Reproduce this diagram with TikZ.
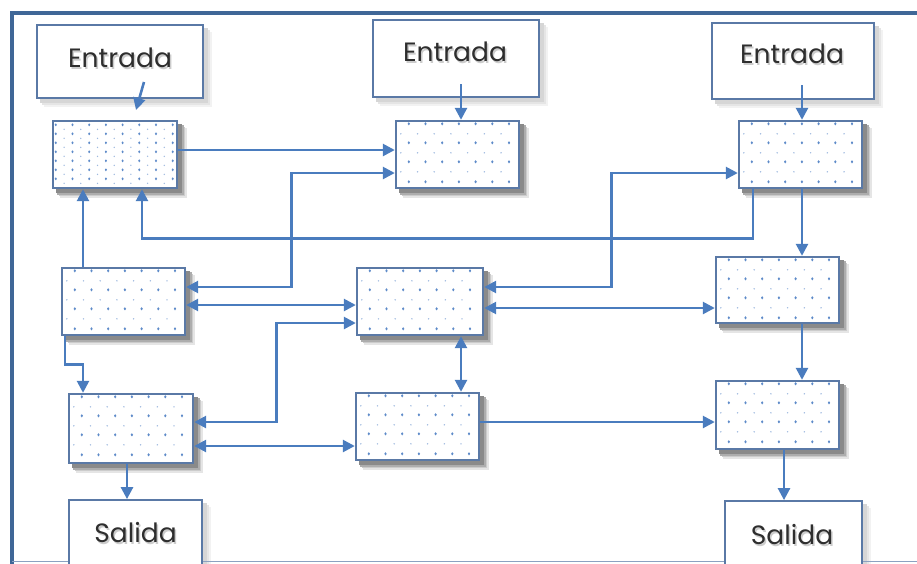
\documentclass[tikz,border=0pt]{standalone}
\usepackage{fontspec}
\setmainfont{Poppins}
\usetikzlibrary{arrows.meta,backgrounds}

\definecolor{frameblue}{HTML}{3F6797}
\definecolor{edgeblue}{HTML}{5A79A6}
\definecolor{linkblue}{HTML}{4A7CBE}
\definecolor{dotblue}{HTML}{5E8BC9}
\definecolor{textgray}{HTML}{2E2E2E}

\tikzset{
  block/.style={draw=edgeblue, line width=2.4pt, fill=white, inner sep=0pt,
    minimum width=123pt, minimum height=67pt},
  iobox/.style={draw=edgeblue, line width=1.8pt, fill=white, inner sep=0pt},
  lbl/.style={font=\fontsize{26.5}{30}\selectfont, text=textgray, inner sep=0pt},
  lblshade/.style={font=\fontsize{26.5}{30}\selectfont, text=black!20, inner sep=0pt},
  bigdot/.style={fill=dotblue},
  smalldot/.style={fill=dotblue!60},
  arr/.style={draw=linkblue, line width=2.6pt,
    -{Triangle[length=12pt,width=12pt]}},
  arrtwo/.style={draw=linkblue, line width=2.6pt,
    {Triangle[length=12pt,width=12pt]}-{Triangle[length=12pt,width=12pt]}},
}

% soft shadow below and right of a box: offset/grey-percentage pairs
\newcommand{\boxshade}[2]{%
  \foreach \s/\c in {#2}
    \fill[black!\c!white]
      ([shift={(\s,\s)}]#1.north west) rectangle ([shift={(\s,\s)}]#1.south east);}

% staggered dot grid inside a block, measured from its top-left corner
\newcommand{\sparsedots}[1]{%
  \begin{scope}[shift={(#1.north west)}]
    \foreach \j in {4,23,42,62}
      \foreach \i in {14,30.7,...,121}
        \fill[bigdot] (\i,\j) ellipse (1.2 and 1.6);
    \foreach \j in {14,33,52}
      \foreach \i in {6,22.7,...,121}
        \fill[smalldot] (\i,\j) circle (0.8);
  \end{scope}}
% denser grid of the first block
\newcommand{\densedots}[1]{%
  \begin{scope}[shift={(#1.north west)}]
    \foreach \j in {5,14,...,64}
      \foreach \i in {4,20.7,...,122}
        \fill[bigdot] (\i,\j) ellipse (1.1 and 1.5);
    \foreach \j in {9.5,18.5,...,64}
      \foreach \i in {12.3,29,...,122}
        \fill[smalldot] (\i,\j) circle (0.75);
  \end{scope}}

\begin{document}
\begin{tikzpicture}[x=1pt,y=-1pt]
  \useasboundingbox (0,0) rectangle (917,563);

  % outer frame
  \draw[frameblue, line width=3.4pt] (917,13) -- (12,13) -- (12,565);
  \draw[edgeblue!70, line width=1pt] (12,561.5) -- (917,561.5);

  % input and output boxes
  \node[iobox, minimum width=166pt, minimum height=73pt] (e1) at (120,61.5) {};
  \node[iobox, minimum width=166pt, minimum height=77pt] (e2) at (456,58.5) {};
  \node[iobox, minimum width=162pt, minimum height=76pt] (e3) at (793,61) {};
  \node[iobox, minimum width=133pt, minimum height=75pt] (s1) at (135.5,537.5) {};
  \node[iobox, minimum width=137pt, minimum height=75pt] (s2) at (793.5,538.5) {};

  % labels with a faint drop shadow
  \node[lblshade] at (121.5,60) {Entrada};
  \node[lblshade] at (456.5,54) {Entrada};
  \node[lblshade] at (793.5,56) {Entrada};
  \node[lblshade] at (137,535) {Salida};
  \node[lblshade] at (793.5,537) {Salida};
  \node[lbl] (t1) at (120,58) {Entrada};
  \node[lbl] (t2) at (455,52) {Entrada};
  \node[lbl] (t3) at (792,54) {Entrada};
  \node[lbl] (t4) at (135.5,533) {Salida};
  \node[lbl] (t5) at (792,535) {Salida};

  % process blocks
  \node[block, minimum width=124pt] (a) at (115,154.5) {};
  \node[block] (b) at (457.5,154.5) {};
  \node[block] (c) at (800.5,154.5) {};
  \node[block] (d) at (123.5,301.5) {};
  \node[block, minimum width=126pt] (e) at (420,301.5) {};
  \node[block, minimum height=66pt] (f) at (777.5,290) {};
  \node[block, minimum width=124pt, minimum height=69pt] (g) at (131,428.5) {};
  \node[block] (h) at (417.5,426.5) {};
  \node[block, minimum height=68pt] (i) at (777.5,415) {};

  \begin{scope}[on background layer]
    \foreach \n in {a,b,c,d,e,f,g,h,i}
      {\boxshade{\n}{8.5/10,7/20,5.5/32,4/46}}
    \foreach \n in {e1,e2,e3,s1,s2}
      {\boxshade{\n}{8/5,6/10,4/16}}
  \end{scope}

  \densedots{a}
  \foreach \n in {b,c,d,e,f,g,h,i} {\sparsedots{\n}}

  % entry points
  \coordinate (e1o) at (144,82);
  \coordinate (a1i) at (136,110);
  \coordinate (e2o) at (461,84);
  \coordinate (e3o) at (802,85);
  \draw[arr] (e1o) -- (a1i);
  \draw[arr] (e2o) -- (e2o |- b.north);
  \draw[arr] (e3o) -- (e3o |- c.north);

  % top row links
  \draw[arr] ([yshift=4.5pt]a.east) -- ([yshift=4.5pt]b.west);
  \draw[arrtwo] ([yshift=14.5pt]d.east) -- ++(105,0) |- ([yshift=-18.5pt]b.west);
  \draw[arrtwo] ([yshift=14.5pt]e.east) -- ++(127,0) |- ([yshift=-18.5pt]c.west);
  \draw[arr] ([xshift=-47.5pt]c.south) -- ++(0,49) -| ([xshift=27pt]a.south);

  \coordinate (dtop) at ([xshift=-40.5pt]d.north);
  \draw[arr] (dtop) -- (dtop |- a.south);

  % right column
  \coordinate (cbot) at ([xshift=1.5pt]c.south);
  \draw[arr] (cbot) -- (cbot |- f.north);
  \coordinate (fbot) at ([xshift=24.5pt]f.south);
  \draw[arr] (fbot) -- (fbot |- i.north);
  \coordinate (ibot) at ([xshift=6.5pt]i.south);
  \draw[arr] (ibot) -- (ibot |- s2.north);

  % left column
  \draw[arr] ([xshift=-58.5pt]d.south) -- ++(0,28) -| ([xshift=-48pt]g.north);
  \coordinate (gbot) at ([xshift=-4pt]g.south);
  \draw[arr] (gbot) -- (gbot |- s1.north);

  % middle links
  \draw[arrtwo] ([yshift=-3.5pt]d.east) -- ([yshift=-3.5pt]e.west);
  \coordinate (eeast) at ([yshift=-6.5pt]e.east);
  \draw[arrtwo] (eeast) -- (eeast -| f.west);
  \draw[arrtwo] ([yshift=6.5pt]g.east) -- ++(82,0) |- ([yshift=-21.5pt]e.west);
  \coordinate (geast) at ([yshift=-17.5pt]g.east);
  \draw[arrtwo] (geast) -- (geast -| h.west);
  \coordinate (ebot) at ([xshift=41pt]e.south);
  \draw[arrtwo] (ebot) -- (ebot |- h.north);
  \coordinate (heast) at ([yshift=4.5pt]h.east);
  \draw[arr] (heast) -- (heast -| i.west);
\end{tikzpicture}
\end{document}
